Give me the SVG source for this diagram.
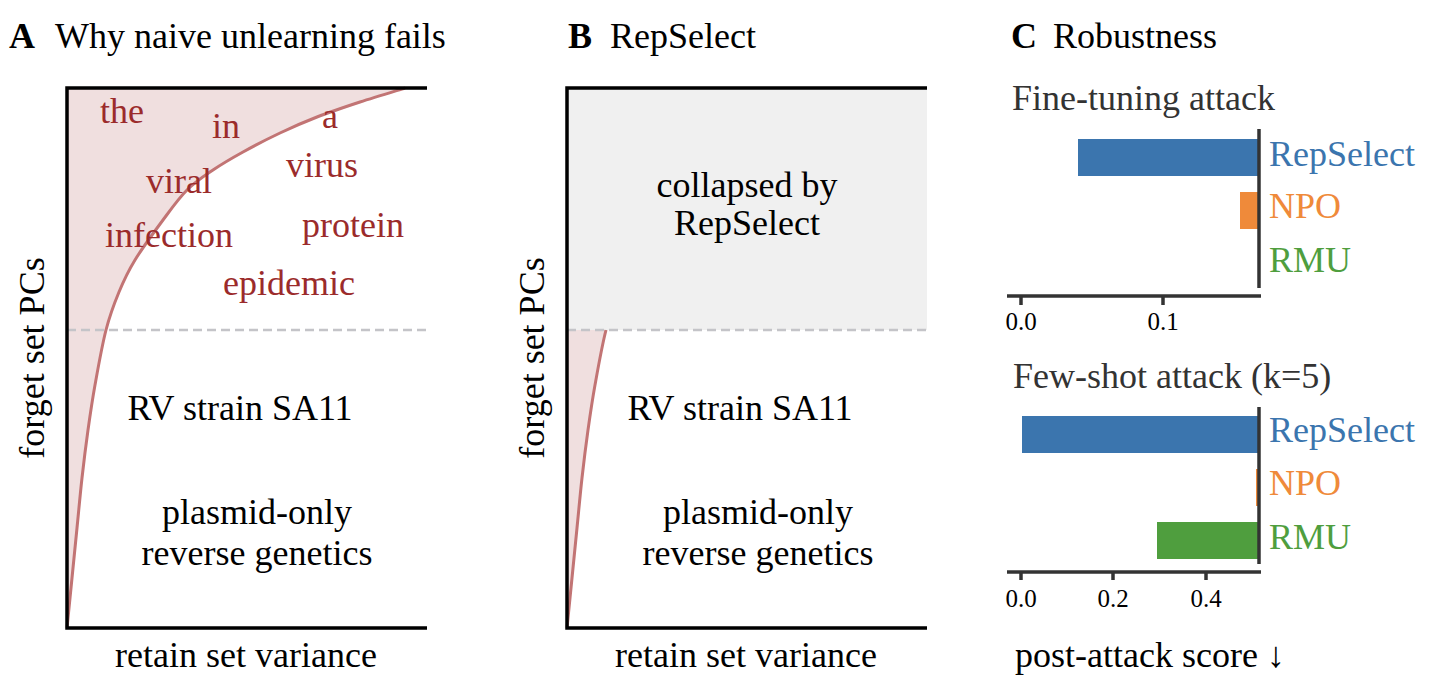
<svg xmlns="http://www.w3.org/2000/svg" width="1434" height="692" viewBox="0 0 1434 692">
<style>
text{font-family:"Liberation Serif","Times New Roman",serif;font-size:36px;fill:#000}
.panel{font-weight:bold}
.word{fill:#9b2b2b}
.mid{text-anchor:middle}
.spine{stroke:#000;stroke-width:3.5;fill:none}
.dash{stroke:#c4c4c8;stroke-width:2.5;stroke-dasharray:9 5;fill:none}
.curve{stroke:#c27474;stroke-width:3;fill:none;stroke-linejoin:round}
.fillp{fill:#f0dfdf;stroke:none}
.cspine{stroke:#333;stroke-width:3.5;fill:none}
.tick{font-size:25px}
.sub{fill:#333}
.blue{fill:#3b75ae}
.orange{fill:#ef8a3a}
.green{fill:#4f9e3e}
</style>
<defs>
<path id="crvLow" d="M67,628 C67.83,619.67 70.33,594.67 72,578 C73.67,561.33 75.33,544.67 77,528 C78.67,511.33 80.17,494.33 82,478 C83.83,461.67 85.83,445.5 88,430 C90.17,414.5 92,401.67 95,385 C98,368.33 102,345.5 106,330"/>
<path id="crv" d="M67,628 C67.83,619.67 70.33,594.67 72,578 C73.67,561.33 75.33,544.67 77,528 C78.67,511.33 80.17,494.33 82,478 C83.83,461.67 85.83,445.5 88,430 C90.17,414.5 92,401.67 95,385 C98,368.33 102,345.5 106,330 C110,314.5 114.17,303.67 119,292 C123.83,280.33 127.67,272 135,260 C142.33,248 154.33,231.67 163,220 C171.67,208.33 178.67,198.33 187,190 C195.33,181.67 203.67,176.33 213,170 C222.33,163.67 231.83,158.17 243,152 C254.17,145.83 267.67,138.83 280,133 C292.33,127.17 303.67,122.17 317,117 C330.33,111.83 345.33,106.83 360,102 C374.67,97.17 397.5,90.33 405,88"/>
</defs>

<g id="panelA">
<text class="panel" x="9" y="48">A</text>
<text x="55" y="48">Why naive unlearning fails</text>
<path class="fillp" d="M67,628 C67.83,619.67 70.33,594.67 72,578 C73.67,561.33 75.33,544.67 77,528 C78.67,511.33 80.17,494.33 82,478 C83.83,461.67 85.83,445.5 88,430 C90.17,414.5 92,401.67 95,385 C98,368.33 102,345.5 106,330 C110,314.5 114.17,303.67 119,292 C123.83,280.33 127.67,272 135,260 C142.33,248 154.33,231.67 163,220 C171.67,208.33 178.67,198.33 187,190 C195.33,181.67 203.67,176.33 213,170 C222.33,163.67 231.83,158.17 243,152 C254.17,145.83 267.67,138.83 280,133 C292.33,127.17 303.67,122.17 317,117 C330.33,111.83 345.33,106.83 360,102 C374.67,97.17 397.5,90.33 405,88 L67,88 Z"/>
<use href="#crv" class="curve"/>
<line class="dash" x1="67" y1="330" x2="426" y2="330"/>
<path class="spine" d="M427,88 H67 V628 H427"/>
<g id="wordsA">
<text class="word" x="100" y="123">the</text>
<text class="word" x="212" y="138">in</text>
<text class="word" x="322" y="128">a</text>
<text class="word" x="286" y="177">virus</text>
<text class="word" x="146" y="193">viral</text>
<text class="word" x="105" y="247">infection</text>
<text class="word" x="302" y="237">protein</text>
<text class="word" x="223" y="295">epidemic</text>
</g>
<text class="mid" x="240" y="420">RV strain SA11</text>
<text class="mid" x="257" y="524">plasmid-only</text>
<text class="mid" x="257" y="565">reverse genetics</text>
<text class="mid" x="246" y="667">retain set variance</text>
<text class="mid" transform="translate(44,358) rotate(-90)">forget set PCs</text>
</g>

<g id="panelB">
<text class="panel" x="568" y="48">B</text>
<text x="610" y="48">RepSelect</text>
<rect x="567" y="88" width="360" height="242" fill="#f0f0f0"/>
<g transform="translate(500,0)">
<path class="fillp" d="M67,628 C67.83,619.67 70.33,594.67 72,578 C73.67,561.33 75.33,544.67 77,528 C78.67,511.33 80.17,494.33 82,478 C83.83,461.67 85.83,445.5 88,430 C90.17,414.5 92,401.67 95,385 C98,368.33 102,345.5 106,330 L67,330 Z"/>
<use href="#crvLow" class="curve"/>
</g>
<line class="dash" x1="567" y1="330" x2="926" y2="330"/>
<path class="spine" d="M927,88 H567 V628 H927"/>
<text class="mid" x="747" y="197">collapsed by</text>
<text class="mid" x="747" y="235">RepSelect</text>
<text class="mid" x="740" y="420">RV strain SA11</text>
<text class="mid" x="758" y="524">plasmid-only</text>
<text class="mid" x="758" y="565">reverse genetics</text>
<text class="mid" x="746" y="667">retain set variance</text>
<text class="mid" transform="translate(544,358) rotate(-90)">forget set PCs</text>
</g>

<g id="panelC">
<text class="panel" x="1011" y="48">C</text>
<text x="1053" y="48">Robustness</text>
<g id="finetune">
<text class="sub" x="1012" y="110">Fine-tuning attack</text>
<rect class="blue" x="1078" y="139" width="181" height="37"/>
<rect class="orange" x="1240" y="192" width="19" height="37"/>
<line class="cspine" x1="1259" y1="129" x2="1259" y2="288"/>
<line class="cspine" x1="1007" y1="296" x2="1261" y2="296"/>
<line class="cspine" x1="1021" y1="296" x2="1021" y2="305" stroke-width="2.5"/>
<line class="cspine" x1="1163" y1="296" x2="1163" y2="305" stroke-width="2.5"/>
<text class="tick mid" x="1021" y="330">0.0</text>
<text class="tick mid" x="1163" y="330">0.1</text>
<text class="blue" x="1269" y="166">RepSelect</text>
<text class="orange" x="1269" y="218">NPO</text>
<text class="green" x="1269" y="272">RMU</text>
</g>
<g id="fewshot">
<text class="sub" x="1013" y="388">Few-shot attack (k=5)</text>
<rect class="blue" x="1022" y="416" width="237" height="37"/>
<rect class="orange" x="1256" y="469" width="2" height="37"/>
<rect class="green" x="1157" y="522" width="102" height="37"/>
<line class="cspine" x1="1259" y1="407" x2="1259" y2="564"/>
<line class="cspine" x1="1007" y1="572" x2="1261" y2="572"/>
<line class="cspine" x1="1021" y1="572" x2="1021" y2="580" stroke-width="2.5"/>
<line class="cspine" x1="1113" y1="572" x2="1113" y2="580" stroke-width="2.5"/>
<line class="cspine" x1="1206" y1="572" x2="1206" y2="580" stroke-width="2.5"/>
<text class="tick mid" x="1021" y="607">0.0</text>
<text class="tick mid" x="1113" y="607">0.2</text>
<text class="tick mid" x="1206" y="607">0.4</text>
<text class="blue" x="1269" y="442">RepSelect</text>
<text class="orange" x="1269" y="495">NPO</text>
<text class="green" x="1269" y="549">RMU</text>
</g>
<text x="1015" y="667">post-attack score ↓</text>
</g>
</svg>
